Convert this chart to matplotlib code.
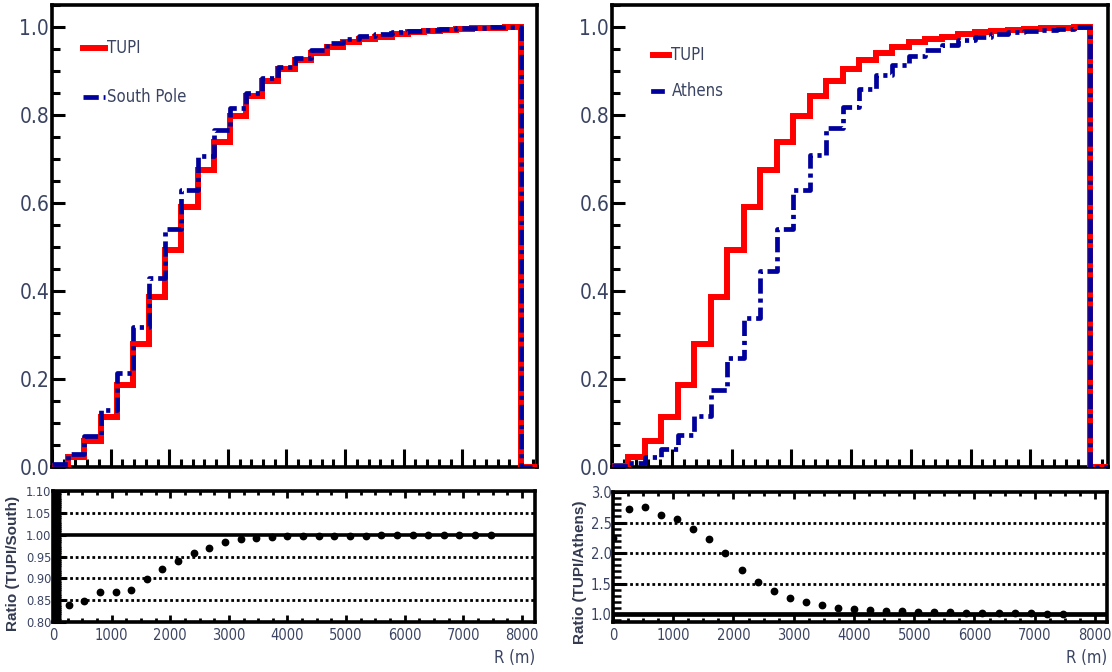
import numpy as np
import matplotlib
matplotlib.use("Agg")
import matplotlib.pyplot as plt
from matplotlib.ticker import MultipleLocator
from matplotlib.lines import Line2D

plt.rcParams['font.family'] = ['DejaVu Sans']
plt.rcParams['font.stretch'] = 'condensed'
plt.rcParams['lines.scale_dashes'] = False

# ---------------- data ----------------
R_MAX = 8000          # m, upper edge of the cumulative histograms
N_BINS = 29           # number of bins in the cumulative histograms

tupi_cdf = [0.003, 0.022, 0.060, 0.114, 0.186, 0.280, 0.387, 0.493, 0.590, 0.674,
            0.738, 0.798, 0.843, 0.877, 0.904, 0.926, 0.942, 0.955, 0.967, 0.973,
            0.978, 0.984, 0.988, 0.992, 0.994, 0.996, 0.997, 0.998, 1.000]
south_pole_cdf = [0.007, 0.029, 0.070, 0.130, 0.213, 0.319, 0.430, 0.540, 0.630, 0.707,
                  0.766, 0.815, 0.851, 0.883, 0.910, 0.930, 0.948, 0.963, 0.972, 0.979,
                  0.984, 0.988, 0.991, 0.994, 0.996, 0.997, 0.998, 0.999, 1.000]
athens_cdf = [0.003, 0.008, 0.022, 0.040, 0.073, 0.116, 0.175, 0.247, 0.339, 0.445,
              0.542, 0.630, 0.709, 0.771, 0.819, 0.858, 0.891, 0.914, 0.933, 0.948,
              0.959, 0.970, 0.978, 0.985, 0.989, 0.991, 0.994, 0.996, 1.000]

ratio_step = 8000 / 30
ratio_R_south = np.arange(1, 29) * ratio_step
ratio_tupi_south = [0.839, 0.848, 0.868, 0.869, 0.874, 0.899, 0.922, 0.939, 0.957, 0.969,
                    0.983, 0.989, 0.993, 0.995, 0.996, 0.996, 0.997, 0.997, 0.998, 0.998,
                    0.999, 0.999, 1.000, 1.000, 1.000, 1.000, 1.000, 1.000]
ratio_R_athens = np.arange(0, 29) * ratio_step
ratio_tupi_athens = [2.25, 2.72, 2.75, 2.62, 2.55, 2.40, 2.23, 2.00, 1.73, 1.52,
                     1.37, 1.27, 1.20, 1.15, 1.10, 1.08, 1.06, 1.05, 1.045, 1.04,
                     1.035, 1.03, 1.025, 1.02, 1.015, 1.01, 1.01, 1.005, 1.00]

top_yticks = [0.0, 0.2, 0.4, 0.6, 0.8, 1.0]
south_yticks = [0.80, 0.85, 0.90, 0.95, 1.00, 1.05, 1.10]
athens_yticks = [1.0, 1.5, 2.0, 2.5, 3.0]
r_ticks = [0, 1000, 2000, 3000, 4000, 5000, 6000, 7000, 8000]

# ---------------- style ----------------
W, H = 1112, 672
RED = '#ff0000'
BLUE = '#00009c'
TXT = '#3a4462'
DASHDOT = (11, 3.5, 3, 3.5)

fig = plt.figure(figsize=(W / 100, H / 100), dpi=100)


def rect(x0, y0, x1, y1):
    return [x0 / W, 1 - y1 / H, (x1 - x0) / W, (y1 - y0) / H]


def fx(px):
    return px / W


def fy(py):
    return 1 - py / H


def top_panel(r, xmax, cmp_vals):
    ax = fig.add_axes(r)
    edges = np.linspace(0, R_MAX, N_BINS + 1)
    x = np.append(edges, xmax)
    ax.step(x, np.append(tupi_cdf, [0, 0]), where='post', color=RED, lw=4.3,
            solid_joinstyle='miter', zorder=3)
    ax.step(x, np.append(cmp_vals, [0, 0]), where='post', color=BLUE, lw=3.4,
            dashes=DASHDOT, zorder=4)
    ax.set_xlim(0, xmax)
    ax.set_ylim(0, 1.05)
    for s in ax.spines.values():
        s.set_linewidth(2.6)
    ax.set_yticks(top_yticks)
    ax.set_yticklabels([f"{v:.1f}" for v in top_yticks])
    ax.yaxis.set_minor_locator(MultipleLocator(0.05))
    ax.xaxis.set_major_locator(MultipleLocator(1000))
    ax.xaxis.set_minor_locator(MultipleLocator(200))
    ax.tick_params(axis='y', which='major', direction='in', length=9, width=2.2,
                   labelsize=15, labelcolor=TXT, pad=2)
    ax.tick_params(axis='y', which='minor', direction='in', length=5.5, width=2.2)
    ax.tick_params(axis='x', which='major', direction='in', length=13, width=2.2,
                   labelbottom=False)
    ax.tick_params(axis='x', which='minor', direction='in', length=6, width=2.2)
    return ax


def bottom_panel(r, xmax, xs, ys, yerr, ylim, yticks, fmt, solid_lw, dotted, ymin_step,
                 ylabelsize, minor_w):
    ax = fig.add_axes(r)
    ax.axhline(1.0, color='black', lw=solid_lw, zorder=2)
    for v in dotted:
        ax.axhline(v, color='black', lw=2.0, dashes=(2.0, 2.0), zorder=1)
    ax.errorbar(xs, ys, yerr=yerr, fmt='o', color='black', ms=4.6, elinewidth=1.2,
                capsize=0, zorder=3)
    ax.set_xlim(0, xmax)
    ax.set_ylim(*ylim)
    for s in ax.spines.values():
        s.set_linewidth(2.6)
    ax.set_xticks(r_ticks)
    ax.set_xticklabels([str(v) for v in r_ticks])
    ax.xaxis.set_minor_locator(MultipleLocator(250))
    ax.set_yticks(yticks)
    ax.set_yticklabels([fmt.format(v) for v in yticks])
    ax.yaxis.set_minor_locator(MultipleLocator(ymin_step))
    ax.tick_params(axis='x', which='major', direction='in', length=5, width=2,
                   top=True, labelsize=10.5, labelcolor=TXT, pad=4)
    ax.tick_params(axis='x', which='minor', direction='in', length=3, width=2, top=True)
    ax.tick_params(axis='y', which='major', direction='in', length=9, width=2.2,
                   labelsize=ylabelsize, labelcolor=TXT, pad=1)
    ax.tick_params(axis='y', which='minor', direction='in', length=6, width=minor_w)
    return ax


# top panels
top_panel(rect(52, 5, 537, 467), 8273, south_pole_cdf)
top_panel(rect(612, 5, 1108, 467), 8301, athens_cdf)

# bottom panels
bottom_panel(rect(53, 491, 535, 622), 8222, ratio_R_south, ratio_tupi_south, 0.002,
             (0.80, 1.10), south_yticks, "{:.2f}", 2.6, [0.85, 0.90, 0.95, 1.05], 0.005,
             9.2, 2.4)
bottom_panel(rect(613, 492, 1107, 622), 8200, ratio_R_athens, ratio_tupi_athens, 0.01,
             (0.87, 3.0), athens_yticks, "{:.1f}", 3.4, [1.5, 2.0, 2.5], 0.1, 10.5, 1.8)

# legends (manual, ROOT style)
fig.add_artist(Line2D([fx(83), fx(105)], [fy(48), fy(48)], color=RED, lw=4.3))
fig.text(fx(107), fy(48), "TUPI", fontsize=12, color=TXT, va='center', ha='left')
fig.add_artist(Line2D([fx(83), fx(105)], [fy(97), fy(97)], color=BLUE, lw=3.4,
                      dashes=DASHDOT))
fig.text(fx(107), fy(97), "South Pole", fontsize=12, color=TXT, va='center', ha='left')

fig.add_artist(Line2D([fx(653), fx(669)], [fy(55), fy(55)], color=RED, lw=4.3))
fig.text(fx(671), fy(55), "TUPI", fontsize=12, color=TXT, va='center', ha='left')
fig.add_artist(Line2D([fx(653), fx(662)], [fy(91), fy(91)], color=BLUE, lw=3.4))
fig.text(fx(672), fy(91), "Athens", fontsize=12, color=TXT, va='center', ha='left')

# axis titles
fig.text(fx(13), fy(563), "Ratio (TUPI/South)", rotation=90, ha='center', va='center',
         fontsize=11, fontweight='bold', color='#333a50',
         family=['Liberation Sans', 'DejaVu Sans'], stretch='normal')
fig.text(fx(580), fy(572), "Ratio (TUPI/Athens)", rotation=90, ha='center', va='center',
         fontsize=11, fontweight='bold', color='#333a50',
         family=['Liberation Sans', 'DejaVu Sans'], stretch='normal')
fig.text(fx(535), fy(658), "R (m)", ha='right', va='center', fontsize=12, color=TXT)
fig.text(fx(1107), fy(658), "R (m)", ha='right', va='center', fontsize=12, color=TXT)

fig.savefig("out.png", dpi=100)
